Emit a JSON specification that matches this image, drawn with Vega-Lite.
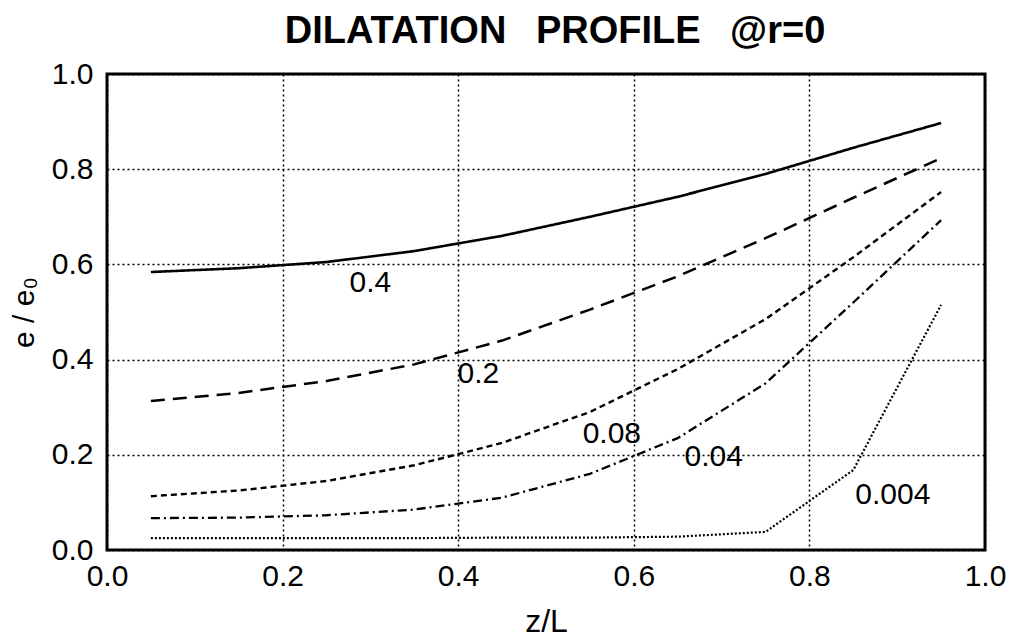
{
  "$schema": "https://vega.github.io/schema/vega-lite/v6.json",
  "autosize": "none",
  "width": 878,
  "height": 476,
  "padding": {"left": 107, "top": 74, "right": 29, "bottom": 91},
  "background": "white",
  "config": {
    "view": {"stroke": "black", "strokeWidth": 3},
    "font": "Liberation Sans"
  },
  "title": {
    "text": "DILATATION\u2002\u00a0PROFILE\u2002\u00a0@r=0",
    "font": "Liberation Sans",
    "fontSize": 38,
    "fontWeight": "bold",
    "color": "black",
    "anchor": "middle",
    "dx": 9,
    "offset": 8
  },
  "datasets": {
    "curves": [
      {"z": 0.05, "e": 0.584, "s": "0.4"},
      {"z": 0.15, "e": 0.592, "s": "0.4"},
      {"z": 0.25, "e": 0.605, "s": "0.4"},
      {"z": 0.35, "e": 0.628, "s": "0.4"},
      {"z": 0.45, "e": 0.660, "s": "0.4"},
      {"z": 0.55, "e": 0.700, "s": "0.4"},
      {"z": 0.65, "e": 0.742, "s": "0.4"},
      {"z": 0.75, "e": 0.790, "s": "0.4"},
      {"z": 0.85, "e": 0.845, "s": "0.4"},
      {"z": 0.95, "e": 0.897, "s": "0.4"},
      {"z": 0.05, "e": 0.313, "s": "0.2"},
      {"z": 0.15, "e": 0.330, "s": "0.2"},
      {"z": 0.25, "e": 0.355, "s": "0.2"},
      {"z": 0.35, "e": 0.390, "s": "0.2"},
      {"z": 0.45, "e": 0.440, "s": "0.2"},
      {"z": 0.55, "e": 0.505, "s": "0.2"},
      {"z": 0.65, "e": 0.575, "s": "0.2"},
      {"z": 0.75, "e": 0.655, "s": "0.2"},
      {"z": 0.85, "e": 0.740, "s": "0.2"},
      {"z": 0.95, "e": 0.823, "s": "0.2"},
      {"z": 0.05, "e": 0.113, "s": "0.08"},
      {"z": 0.15, "e": 0.125, "s": "0.08"},
      {"z": 0.25, "e": 0.145, "s": "0.08"},
      {"z": 0.35, "e": 0.178, "s": "0.08"},
      {"z": 0.45, "e": 0.225, "s": "0.08"},
      {"z": 0.55, "e": 0.290, "s": "0.08"},
      {"z": 0.65, "e": 0.380, "s": "0.08"},
      {"z": 0.75, "e": 0.485, "s": "0.08"},
      {"z": 0.85, "e": 0.615, "s": "0.08"},
      {"z": 0.95, "e": 0.752, "s": "0.08"},
      {"z": 0.05, "e": 0.067, "s": "0.04"},
      {"z": 0.15, "e": 0.068, "s": "0.04"},
      {"z": 0.25, "e": 0.073, "s": "0.04"},
      {"z": 0.35, "e": 0.085, "s": "0.04"},
      {"z": 0.45, "e": 0.110, "s": "0.04"},
      {"z": 0.55, "e": 0.160, "s": "0.04"},
      {"z": 0.65, "e": 0.235, "s": "0.04"},
      {"z": 0.75, "e": 0.350, "s": "0.04"},
      {"z": 0.85, "e": 0.520, "s": "0.04"},
      {"z": 0.95, "e": 0.693, "s": "0.04"},
      {"z": 0.05, "e": 0.025, "s": "0.004"},
      {"z": 0.15, "e": 0.025, "s": "0.004"},
      {"z": 0.25, "e": 0.025, "s": "0.004"},
      {"z": 0.35, "e": 0.025, "s": "0.004"},
      {"z": 0.45, "e": 0.026, "s": "0.004"},
      {"z": 0.55, "e": 0.026, "s": "0.004"},
      {"z": 0.65, "e": 0.028, "s": "0.004"},
      {"z": 0.75, "e": 0.038, "s": "0.004"},
      {"z": 0.85, "e": 0.168, "s": "0.004"},
      {"z": 0.95, "e": 0.515, "s": "0.004"}
    ],
    "labels": [
      {"z": 0.30, "e": 0.561, "t": "0.4"},
      {"z": 0.423, "e": 0.370, "t": "0.2"},
      {"z": 0.575, "e": 0.244, "t": "0.08"},
      {"z": 0.691, "e": 0.195, "t": "0.04"},
      {"z": 0.895, "e": 0.116, "t": "0.004"}
    ]
  },
  "encoding": {
    "x": {
      "field": "z",
      "type": "quantitative",
      "scale": {"domain": [0, 1], "nice": false, "zero": false},
      "axis": {
        "title": "z/L",
        "values": [0, 0.2, 0.4, 0.6, 0.8, 1.0],
        "format": ".1f",
        "grid": true,
        "gridColor": "black",
        "gridDash": [2, 3],
        "gridWidth": 1.5,
        "gridOpacity": 1,
        "domain": false,
        "ticks": false,
        "labelPadding": 11,
        "labelFont": "Liberation Sans",
        "labelFontSize": 30,
        "labelColor": "black",
        "labelFlush": false,
        "titleFont": "Liberation Sans",
        "titleFontSize": 32,
        "titleFontWeight": "normal",
        "titleColor": "black",
        "titlePadding": 15
      }
    },
    "y": {
      "field": "e",
      "type": "quantitative",
      "scale": {"domain": [0, 1], "nice": false, "zero": false},
      "axis": {
        "title": "e / e₀",
        "values": [0, 0.2, 0.4, 0.6, 0.8, 1.0],
        "format": ".1f",
        "grid": true,
        "gridColor": "black",
        "gridDash": [2, 3],
        "gridWidth": 1.5,
        "gridOpacity": 1,
        "domain": false,
        "ticks": false,
        "labelPadding": 14,
        "labelFont": "Liberation Sans",
        "labelFontSize": 30,
        "labelColor": "black",
        "labelFlush": false,
        "titleFont": "Liberation Sans",
        "titleFontSize": 30,
        "titleFontWeight": "normal",
        "titleColor": "black",
        "titlePadding": 12
      }
    }
  },
  "layer": [
    {
      "data": {"name": "curves"},
      "mark": {"type": "line", "color": "black"},
      "encoding": {
        "detail": {"field": "s"},
        "strokeDash": {
          "field": "s",
          "type": "nominal",
          "scale": {
            "domain": ["0.4", "0.2", "0.08", "0.04", "0.004"],
            "range": [[1, 0], [14, 8], [6, 4], [9, 4, 2, 4], [2, 2]]
          },
          "legend": null
        },
        "strokeWidth": {
          "field": "s",
          "type": "nominal",
          "scale": {
            "domain": ["0.4", "0.2", "0.08", "0.04", "0.004"],
            "range": [2.6, 2.2, 2.2, 2.2, 1.6]
          },
          "legend": null
        }
      }
    },
    {
      "data": {"name": "labels"},
      "mark": {
        "type": "text",
        "font": "Liberation Sans",
        "fontSize": 30,
        "color": "black",
        "align": "center",
        "baseline": "middle"
      },
      "encoding": {
        "text": {"field": "t"}
      }
    }
  ]
}
